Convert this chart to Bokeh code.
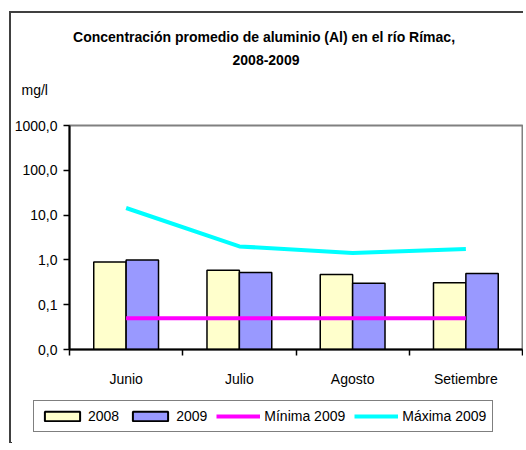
import numpy as np
from bokeh.plotting import figure
from bokeh.layouts import column
from bokeh.models import (Range1d, FixedTicker, CustomJSTickFormatter, Legend,
                          LegendItem, Label, ColumnDataSource)
from bokeh.embed import file_html
from bokeh.resources import INLINE

categories = ["Junio", "Julio", "Agosto", "Setiembre"]
v2008 = [0.90, 0.59, 0.47, 0.31]
v2009 = [1.00, 0.52, 0.30, 0.50]
min2009 = [0.05, 0.05, 0.05, 0.05]
max2009 = [14.4, 2.0, 1.43, 1.76]
y_ticks = [0.01, 0.1, 1, 10, 100, 1000]
series_labels = ["2008", "2009", "Mínima 2009", "Máxima 2009"]
title_lines = ["Concentración promedio de aluminio (Al) en el  río Rímac,", "2008-2009"]
unit_label = "mg/l"

FONT = "Liberation Sans"
FS = "14px"
C08, C09, CMIN, CMAX = "#FFFFCC", "#9999FF", "#FF00FF", "#00FFFF"
W = 512

x_center = np.arange(len(categories)) + 0.5
bw = 0.286
src = ColumnDataSource(dict(
    x08=x_center - bw / 2, x09=x_center + bw / 2, xc=x_center,
    v08=v2008, v09=v2009, mn=min2009, mx=max2009,
))


def blank_strip(height, **kw):
    f = figure(width=W, height=height, output_backend="svg", toolbar_location=None,
               x_axis_location=None, y_axis_location=None, min_border=0, **kw)
    f.frame_align = False
    f.outline_line_color = None
    f.xgrid.visible = False
    f.ygrid.visible = False
    f.background_fill_color = "white"
    f.border_fill_color = "white"
    return f


# ---- header with title and unit
hdr = blank_strip(102, x_range=Range1d(0, 1), y_range=Range1d(0, 1))
for txt, yy in zip(title_lines, [79, 56]):
    hdr.add_layout(Label(x=254.5, y=yy, x_units="screen", y_units="screen", text=txt,
                         text_align="center", text_baseline="alphabetic",
                         text_font=FONT, text_font_size=FS, text_font_style="bold",
                         text_color="black"))
hdr.add_layout(Label(x=10, y=26, x_units="screen", y_units="screen", text=unit_label,
                     text_align="left", text_baseline="alphabetic",
                     text_font=FONT, text_font_size=FS, text_color="black"))

# ---- main chart
p = figure(width=W, height=280, output_backend="svg", toolbar_location=None,
           y_axis_type="log", x_range=Range1d(0, 4), y_range=Range1d(0.01, 1000),
           min_border_left=57, min_border_right=1, min_border_top=10,
           min_border_bottom=46)
p.frame_align = False
p.background_fill_color = "white"
p.border_fill_color = "white"
p.outline_line_color = "#808080"
p.outline_line_width = 2
p.xgrid.visible = False
p.ygrid.visible = False

p.vbar(x="x08", top="v08", bottom=0.01, width=bw, source=src,
       fill_color=C08, line_color="black", line_width=1.5)
p.vbar(x="x09", top="v09", bottom=0.01, width=bw, source=src,
       fill_color=C09, line_color="black", line_width=1.5)
p.line(x="xc", y="mn", source=src, line_color=CMIN, line_width=4)
p.line(x="xc", y="mx", source=src, line_color=CMAX, line_width=4)

ya = p.yaxis[0]
ya.ticker = FixedTicker(ticks=y_ticks, minor_ticks=[])
ya.formatter = CustomJSTickFormatter(code="return tick.toFixed(1).replace('.', ',');")
ya.axis_line_width = 2
ya.axis_line_color = "black"
ya.major_tick_out = 6
ya.major_tick_in = 0
ya.major_tick_line_width = 1.5
ya.major_tick_line_color = "black"
ya.minor_tick_line_color = None
ya.major_label_standoff = 6
ya.major_label_text_font = FONT
ya.major_label_text_font_size = FS
ya.major_label_text_color = "black"

xa = p.xaxis[0]
xa.ticker = FixedTicker(ticks=list(x_center), minor_ticks=list(range(len(categories) + 1)))
xa.formatter = CustomJSTickFormatter(args=dict(names=categories),
                                     code="return names[Math.round(tick - 0.5)];")
xa.axis_line_width = 2
xa.axis_line_color = "black"
xa.major_tick_line_color = None
xa.major_tick_out = 0
xa.major_tick_in = 0
xa.minor_tick_out = 6
xa.minor_tick_in = 0
xa.minor_tick_line_width = 1.5
xa.minor_tick_line_color = "black"
xa.major_label_standoff = 15
xa.major_label_text_font = FONT
xa.major_label_text_font_size = FS
xa.major_label_text_color = "black"

# ---- legend strip (same data, kept far out of view; only the legend keys show)
lg = blank_strip(48, x_range=Range1d(100, 200), y_range=Range1d(1000, 2000))
k08 = lg.vbar(x="x08", top="v08", bottom=0.01, width=bw, source=src,
              fill_color=C08, line_color="black", line_width=2)
k09 = lg.vbar(x="x09", top="v09", bottom=0.01, width=bw, source=src,
              fill_color=C09, line_color="black", line_width=2)
kmin = lg.line(x="xc", y="mn", source=src, line_color=CMIN, line_width=4)
kmax = lg.line(x="xc", y="mx", source=src, line_color=CMAX, line_width=4)

legend = Legend(items=[LegendItem(label=t, renderers=[r]) for t, r in
                       zip(series_labels, [k08, k09, kmin, kmax])],
                orientation="horizontal", location=(22, 11))
legend.label_text_font = FONT
legend.label_text_font_size = FS
legend.label_text_color = "black"
legend.glyph_width = 44
legend.glyph_height = 12
legend.label_standoff = 4
legend.spacing = 9
legend.padding = 6
legend.margin = 0
legend.label_height = 18
legend.border_line_color = "black"
legend.border_line_width = 1
legend.background_fill_alpha = 1
lg.add_layout(legend, "center")

layout = column(hdr, p, lg, spacing=0)
layout.styles = {"margin-left": "9px", "margin-top": "11px",
                 "border-left": "2px solid #404040", "border-top": "2px solid #404040"}

open("out.html", "w").write(file_html(layout, INLINE))
